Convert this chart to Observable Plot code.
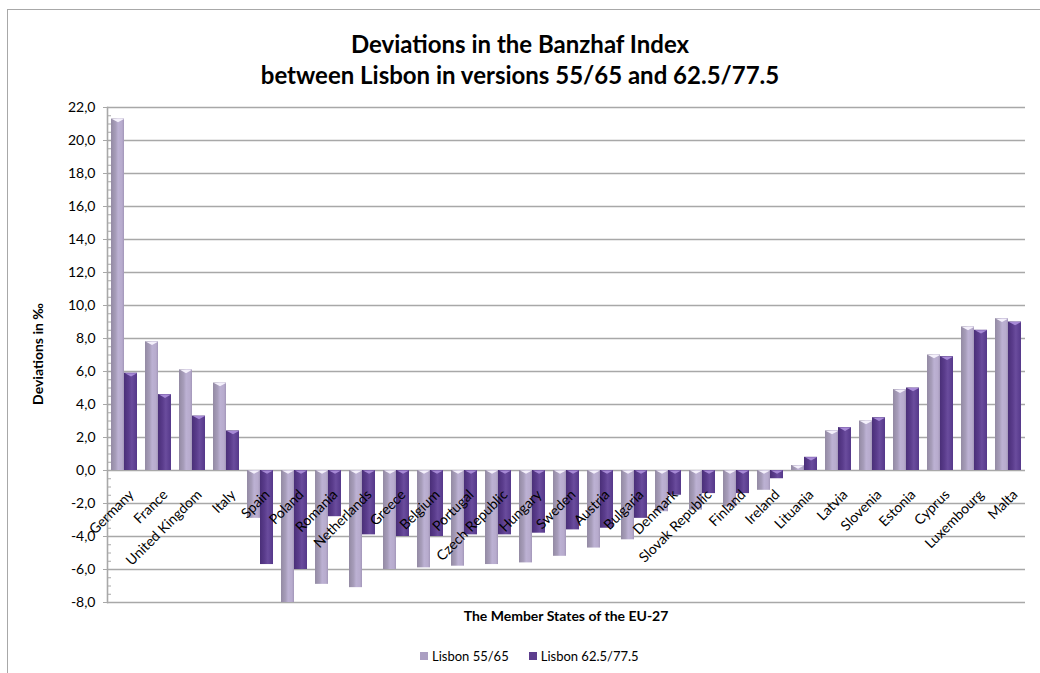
<!DOCTYPE html>
<html>
<head>
<meta charset="utf-8">
<script src="https://cdn.jsdelivr.net/npm/d3@7"></script>
<script src="https://cdn.jsdelivr.net/npm/@observablehq/plot@0.6"></script>
<style>
  body { margin: 0; background: #fff; font-family: Lato, "Open Sans", sans-serif; }
  #wrap { position: relative; width: 1040px; height: 673px; overflow: hidden; background: #fff; }
  #frame { position: absolute; left: 7px; top: 9px; width: 1100px; height: 800px; border: 1.5px solid #a8a8a8; box-sizing: border-box; }
  #title { position: absolute; left: 0; top: 28px; width: 1040px; text-align: center; font-weight: bold; font-size: 24px; line-height: 31px; color: #000; }
  #chart { position: absolute; left: 0; top: 0; }
  #ytitle { position: absolute; left: 37px; top: 354px; transform: translate(-50%, -50%) rotate(-90deg); font-weight: bold; font-size: 14px; white-space: nowrap; }
  #xtitle { position: absolute; left: 566px; top: 615px; transform: translate(-50%, -50%); font-weight: bold; font-size: 14px; white-space: nowrap; }
  #legend { position: absolute; left: 420px; top: 648px; font-size: 13px; display: flex; align-items: center; white-space: nowrap; }
  .sw { display: inline-block; width: 8px; height: 8px; margin-right: 4px; }
</style>
</head>
<body>
<div id="wrap">
  <div id="frame"></div>
  <div id="title">Deviations in the Banzhaf Index<br>between Lisbon in versions 55/65 and 62.5/77.5</div>
  <div id="chart"></div>
  <div id="ytitle">Deviations in ‰</div>
  <div id="xtitle">The Member States of the EU-27</div>
  <div id="legend"></div>
</div>
<script>
const countries = ["Germany","France","United Kingdom","Italy","Spain","Poland","Romania","Netherlands","Greece","Belgium","Portugal","Czech Republic","Hungary","Sweden","Austria","Bulgaria","Denmark","Slovak Republic","Finland","Ireland","Lituania","Latvia","Slovenia","Estonia","Cyprus","Luxembourg","Malta"];
const lisbon5565 = [21.3, 7.8, 6.1, 5.3, -2.9, -8.0, -6.9, -7.1, -6.0, -5.9, -5.8, -5.7, -5.6, -5.2, -4.7, -4.2, -2.5, -2.4, -2.2, -1.2, 0.3, 2.4, 3.0, 4.9, 7.0, 8.7, 9.2];
const lisbon625775 = [5.9, 4.6, 3.3, 2.4, -5.7, -6.0, -2.8, -3.9, -4.0, -4.0, -3.9, -3.9, -3.8, -3.6, -3.5, -2.9, -1.5, -1.4, -1.4, -0.5, 0.8, 2.6, 3.2, 5.0, 6.9, 8.5, 9.0];
const seriesNames = ["Lisbon 55/65", "Lisbon 62.5/77.5"];
const yTicks = [-8, -6, -4, -2, 0, 2, 4, 6, 8, 10, 12, 14, 16, 18, 20, 22];
const minorStep = 0.5;

const legendColors = ["#ab9fc2", "#5d3e8e"];
const bevelColors = ["#f4f0fb", "#a78ad6"];

const rows = countries.flatMap((c, i) => [
  {country: c, series: seriesNames[0], value: lisbon5565[i]},
  {country: c, series: seriesNames[1], value: lisbon625775[i]}
]);
const minorTicks = d3.range(-8, 22 + 1e-9, minorStep).filter(v => !yTicks.includes(Math.round(v * 10) / 10));
const fmt = v => v.toFixed(1).replace(".", ",");

const W = 1040, H = 673, mL = 96, mR = 4, mT = 107, mB = 71;
const band = (W - mL - mR) / countries.length;

const bevel = {
  draw(ctx, size) {
    const r = Math.sqrt(size / Math.PI);
    ctx.moveTo(-r, 0);
    ctx.lineTo(r, 0);
    ctx.lineTo(0, r * 0.55);
    ctx.closePath();
  }
};

const svg = Plot.plot({
  width: W, height: H,
  marginLeft: mL, marginRight: mR, marginTop: mT, marginBottom: mB,
  fx: {domain: countries, padding: 0, axis: null, label: null},
  x: {domain: seriesNames, paddingInner: 0, paddingOuter: 0.3, axis: null},
  y: {domain: [-8, 22], axis: null, label: null},
  style: {fontFamily: "Lato, 'Open Sans', sans-serif", fontSize: "14px", background: "transparent", color: "#000"},
  marks: [
    Plot.ruleY(yTicks, {stroke: "#a8a8a8", strokeWidth: 1.6}),
    Plot.frame({anchor: "left", facetAnchor: "left", stroke: "#a8a8a8", strokeWidth: 1.6}),
    Plot.axisY(yTicks, {anchor: "left", label: null, tickSize: 4, tickPadding: 8, tickFormat: fmt, stroke: "#a8a8a8", fill: "#000", fontSize: 14}),
    Plot.axisY(minorTicks, {anchor: "left", label: null, tickSize: -4, tickFormat: () => "", stroke: "#a8a8a8"}),
    Plot.ruleX(countries, {fx: d => d, y1: 0, y2: 0, insetBottom: -4, dx: band / 2, stroke: "#a8a8a8", strokeWidth: 1.2}),
    Plot.barY(rows.filter(d => d.series === seriesNames[0]), {fx: "country", x: "series", y: "value", fill: "url(#gLight)"}),
    Plot.barY(rows.filter(d => d.series === seriesNames[1]), {fx: "country", x: "series", y: "value", fill: "url(#gDark)"}),
    Plot.dot(rows.filter(d => d.series === seriesNames[0]), {fx: "country", x: "series", y: d => Math.max(d.value, 0), symbol: bevel, r: 6, fill: bevelColors[0], stroke: "none"}),
    Plot.dot(rows.filter(d => d.series === seriesNames[1]), {fx: "country", x: "series", y: d => Math.max(d.value, 0), symbol: bevel, r: 6, fill: bevelColors[1], stroke: "none"}),
    Plot.text(countries, {fx: d => d, y: 0, text: d => d, rotate: -45, textAnchor: "end", lineAnchor: "top", dx: 3, dy: 18, fill: "#000", fontSize: 14})
  ]
});

svg.insertAdjacentHTML("afterbegin", `
<defs>
  <linearGradient id="gLight" x1="0" y1="0" x2="1" y2="0">
    <stop offset="0" stop-color="#938aa3"/>
    <stop offset="0.35" stop-color="#a79dba"/>
    <stop offset="0.55" stop-color="#bcb1d3"/>
    <stop offset="0.85" stop-color="#b7abcd"/>
    <stop offset="1" stop-color="#a296b8"/>
  </linearGradient>
  <linearGradient id="gDark" x1="0" y1="0" x2="1" y2="0">
    <stop offset="0" stop-color="#4a2f78"/>
    <stop offset="0.35" stop-color="#5a3c8c"/>
    <stop offset="0.6" stop-color="#6a4c9d"/>
    <stop offset="1" stop-color="#55388a"/>
  </linearGradient>
</defs>`);
document.getElementById("chart").appendChild(svg);

const legend = document.getElementById("legend");
seriesNames.forEach((s, i) => {
  const item = document.createElement("span");
  item.style.marginRight = i === 0 ? "20px" : "0";
  item.style.display = "inline-flex";
  item.style.alignItems = "center";
  item.innerHTML = `<span class="sw" style="background:${legendColors[i]}"></span>${s}`;
  legend.appendChild(item);
});
</script>
</body>
</html>
